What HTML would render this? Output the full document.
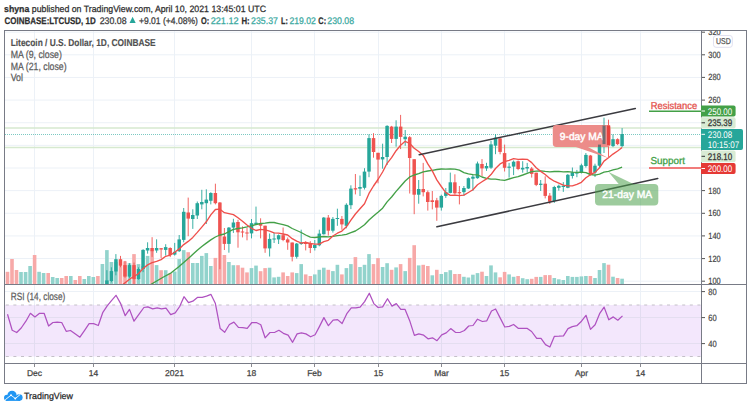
<!DOCTYPE html><html><head><meta charset="utf-8"><style>html,body{margin:0;padding:0;background:#fff;width:750px;height:409px;overflow:hidden}svg{display:block}text{font-family:"Liberation Sans",sans-serif;text-rendering:geometricPrecision}</style></head><body>
<svg width="750" height="409" viewBox="0 0 750 409">
<defs><clipPath id="cp"><rect x="5" y="31" width="696" height="253"/></clipPath><clipPath id="ca"><rect x="702" y="30.5" width="48" height="253.5"/></clipPath><clipPath id="cr"><rect x="5" y="285" width="696" height="78"/></clipPath></defs>
<text stroke="#2e2e2e" stroke-width="0.25" x="4" y="11.6" font-size="9.2" fill="#2e2e2e" textLength="262" lengthAdjust="spacingAndGlyphs"><tspan font-weight="bold">shyna</tspan> published on TradingView.com, April 10, 2021 13:45:01 UTC</text>
<text stroke="#2e2e2e" stroke-width="0.25" x="4.5" y="23.6" font-size="9.6" font-weight="bold" fill="#2e2e2e" textLength="91.2" lengthAdjust="spacingAndGlyphs">COINBASE:LTCUSD, 1D</text>
<text stroke="#3a3a3a" stroke-width="0.25" x="99.7" y="23.6" font-size="9.6" font-weight="normal" fill="#3a3a3a" textLength="26.9" lengthAdjust="spacingAndGlyphs">230.08</text>
<text stroke="#3a3a3a" stroke-width="0.25" x="138.9" y="23.6" font-size="9.6" font-weight="normal" fill="#3a3a3a" textLength="59" lengthAdjust="spacingAndGlyphs">+9.01 (+4.08%)</text>
<text stroke="#2e2e2e" stroke-width="0.25" x="201" y="23.6" font-size="9.6" font-weight="bold" fill="#2e2e2e" textLength="8.2" lengthAdjust="spacingAndGlyphs">O:</text>
<text stroke="#3aa99f" stroke-width="0.25" x="210.7" y="23.6" font-size="9.6" font-weight="normal" fill="#3aa99f" textLength="28" lengthAdjust="spacingAndGlyphs">221.12</text>
<text stroke="#2e2e2e" stroke-width="0.25" x="241.4" y="23.6" font-size="9.6" font-weight="bold" fill="#2e2e2e" textLength="8.2" lengthAdjust="spacingAndGlyphs">H:</text>
<text stroke="#3aa99f" stroke-width="0.25" x="251.1" y="23.6" font-size="9.6" font-weight="normal" fill="#3aa99f" textLength="26.8" lengthAdjust="spacingAndGlyphs">235.37</text>
<text stroke="#2e2e2e" stroke-width="0.25" x="281" y="23.6" font-size="9.6" font-weight="bold" fill="#2e2e2e" textLength="6.8" lengthAdjust="spacingAndGlyphs">L:</text>
<text stroke="#3aa99f" stroke-width="0.25" x="289.4" y="23.6" font-size="9.6" font-weight="normal" fill="#3aa99f" textLength="26.4" lengthAdjust="spacingAndGlyphs">219.02</text>
<text stroke="#2e2e2e" stroke-width="0.25" x="318.3" y="23.6" font-size="9.6" font-weight="bold" fill="#2e2e2e" textLength="7.8" lengthAdjust="spacingAndGlyphs">C:</text>
<text stroke="#3aa99f" stroke-width="0.25" x="327.3" y="23.6" font-size="9.6" font-weight="normal" fill="#3aa99f" textLength="26.8" lengthAdjust="spacingAndGlyphs">230.08</text>
<path d="M129.5 23 L132.6 16.8 L135.7 23 Z" fill="#26a69a"/>
<g stroke="#ecf1f7" stroke-width="1">
<line x1="34.5" y1="31" x2="34.5" y2="284"/>
<line x1="34.5" y1="285" x2="34.5" y2="363"/>
<line x1="93.5" y1="31" x2="93.5" y2="284"/>
<line x1="93.5" y1="285" x2="93.5" y2="363"/>
<line x1="174.5" y1="31" x2="174.5" y2="284"/>
<line x1="174.5" y1="285" x2="174.5" y2="363"/>
<line x1="251.5" y1="31" x2="251.5" y2="284"/>
<line x1="251.5" y1="285" x2="251.5" y2="363"/>
<line x1="314.5" y1="31" x2="314.5" y2="284"/>
<line x1="314.5" y1="285" x2="314.5" y2="363"/>
<line x1="378.5" y1="31" x2="378.5" y2="284"/>
<line x1="378.5" y1="285" x2="378.5" y2="363"/>
<line x1="441.5" y1="31" x2="441.5" y2="284"/>
<line x1="441.5" y1="285" x2="441.5" y2="363"/>
<line x1="504.5" y1="31" x2="504.5" y2="284"/>
<line x1="504.5" y1="285" x2="504.5" y2="363"/>
<line x1="581.5" y1="31" x2="581.5" y2="284"/>
<line x1="581.5" y1="285" x2="581.5" y2="363"/>
<line x1="640.5" y1="31" x2="640.5" y2="284"/>
<line x1="640.5" y1="285" x2="640.5" y2="363"/>
<line x1="5" y1="281.20" x2="701" y2="281.20"/>
<line x1="5" y1="258.56" x2="701" y2="258.56"/>
<line x1="5" y1="235.92" x2="701" y2="235.92"/>
<line x1="5" y1="213.28" x2="701" y2="213.28"/>
<line x1="5" y1="190.64" x2="701" y2="190.64"/>
<line x1="5" y1="168.00" x2="701" y2="168.00"/>
<line x1="5" y1="145.36" x2="701" y2="145.36"/>
<line x1="5" y1="122.72" x2="701" y2="122.72"/>
<line x1="5" y1="100.08" x2="701" y2="100.08"/>
<line x1="5" y1="77.44" x2="701" y2="77.44"/>
<line x1="5" y1="54.80" x2="701" y2="54.80"/>
<line x1="5" y1="32.16" x2="701" y2="32.16"/>
<line x1="5" y1="291.5" x2="701" y2="291.5"/>
<line x1="5" y1="317.5" x2="701" y2="317.5"/>
<line x1="5" y1="343.5" x2="701" y2="343.5"/>
</g>
<rect x="5" y="305" width="696" height="51.5" fill="#f3e7fc"/>
<line x1="5.8" y1="305" x2="701" y2="305" stroke="#c4c0c8" stroke-width="1" stroke-dasharray="3 4.6"/>
<line x1="5.8" y1="356.5" x2="701" y2="356.5" stroke="#c4c0c8" stroke-width="1" stroke-dasharray="3 4.6"/>
<line x1="5" y1="317.5" x2="701" y2="317.5" stroke="#e4def0" stroke-width="1"/>
<line x1="5" y1="343.5" x2="701" y2="343.5" stroke="#e4def0" stroke-width="1"/>
<line x1="34.5" y1="304.6" x2="34.5" y2="356.6" stroke="#e2dcf0" stroke-width="1"/>
<line x1="93.5" y1="304.6" x2="93.5" y2="356.6" stroke="#e2dcf0" stroke-width="1"/>
<line x1="174.5" y1="304.6" x2="174.5" y2="356.6" stroke="#e2dcf0" stroke-width="1"/>
<line x1="251.5" y1="304.6" x2="251.5" y2="356.6" stroke="#e2dcf0" stroke-width="1"/>
<line x1="314.5" y1="304.6" x2="314.5" y2="356.6" stroke="#e2dcf0" stroke-width="1"/>
<line x1="378.5" y1="304.6" x2="378.5" y2="356.6" stroke="#e2dcf0" stroke-width="1"/>
<line x1="441.5" y1="304.6" x2="441.5" y2="356.6" stroke="#e2dcf0" stroke-width="1"/>
<line x1="504.5" y1="304.6" x2="504.5" y2="356.6" stroke="#e2dcf0" stroke-width="1"/>
<line x1="581.5" y1="304.6" x2="581.5" y2="356.6" stroke="#e2dcf0" stroke-width="1"/>
<line x1="640.5" y1="304.6" x2="640.5" y2="356.6" stroke="#e2dcf0" stroke-width="1"/>
<g clip-path="url(#cp)">
<line x1="5" y1="128" x2="701" y2="128" stroke="#d6e9cf" stroke-width="1.5"/>
<line x1="5" y1="147.6" x2="701" y2="147.6" stroke="#d6e9cf" stroke-width="1.5"/>
<line x1="5" y1="134.5" x2="701" y2="134.5" stroke="#26a69a" stroke-width="1" stroke-dasharray="1 1" opacity="0.6"/>
<rect x="5.7" y="271.8" width="3.6" height="12.2" fill="#f7a9a8"/>
<rect x="10.2" y="259.0" width="3.6" height="25.0" fill="#f7a9a8"/>
<rect x="14.7" y="270.0" width="3.6" height="14.0" fill="#f7a9a8"/>
<rect x="19.2" y="272.0" width="3.6" height="12.0" fill="#92d3cc"/>
<rect x="23.8" y="272.0" width="3.6" height="12.0" fill="#92d3cc"/>
<rect x="28.3" y="266.0" width="3.6" height="18.0" fill="#92d3cc"/>
<rect x="32.8" y="255.0" width="3.6" height="29.0" fill="#f7a9a8"/>
<rect x="37.3" y="271.8" width="3.6" height="12.2" fill="#92d3cc"/>
<rect x="41.8" y="273.0" width="3.6" height="11.0" fill="#92d3cc"/>
<rect x="46.4" y="273.0" width="3.6" height="11.0" fill="#f7a9a8"/>
<rect x="50.9" y="277.0" width="3.6" height="7.0" fill="#92d3cc"/>
<rect x="55.4" y="278.0" width="3.6" height="6.0" fill="#92d3cc"/>
<rect x="59.9" y="278.0" width="3.6" height="6.0" fill="#f7a9a8"/>
<rect x="64.4" y="276.0" width="3.6" height="8.0" fill="#f7a9a8"/>
<rect x="69.0" y="276.0" width="3.6" height="8.0" fill="#92d3cc"/>
<rect x="73.5" y="280.0" width="3.6" height="4.0" fill="#f7a9a8"/>
<rect x="78.0" y="276.0" width="3.6" height="8.0" fill="#f7a9a8"/>
<rect x="82.5" y="279.0" width="3.6" height="5.0" fill="#92d3cc"/>
<rect x="87.0" y="276.0" width="3.6" height="8.0" fill="#92d3cc"/>
<rect x="91.5" y="277.0" width="3.6" height="7.0" fill="#92d3cc"/>
<rect x="96.1" y="276.0" width="3.6" height="8.0" fill="#f7a9a8"/>
<rect x="100.6" y="264.0" width="3.6" height="20.0" fill="#92d3cc"/>
<rect x="105.1" y="250.1" width="3.6" height="33.9" fill="#92d3cc"/>
<rect x="109.6" y="262.0" width="3.6" height="22.0" fill="#92d3cc"/>
<rect x="114.1" y="262.0" width="3.6" height="22.0" fill="#92d3cc"/>
<rect x="118.7" y="266.0" width="3.6" height="18.0" fill="#f7a9a8"/>
<rect x="123.2" y="261.3" width="3.6" height="22.7" fill="#f7a9a8"/>
<rect x="127.7" y="263.2" width="3.6" height="20.8" fill="#92d3cc"/>
<rect x="132.2" y="254.1" width="3.6" height="29.9" fill="#f7a9a8"/>
<rect x="136.7" y="264.1" width="3.6" height="19.9" fill="#92d3cc"/>
<rect x="141.3" y="266.0" width="3.6" height="18.0" fill="#92d3cc"/>
<rect x="145.8" y="255.9" width="3.6" height="28.1" fill="#92d3cc"/>
<rect x="150.3" y="250.5" width="3.6" height="33.5" fill="#f7a9a8"/>
<rect x="154.8" y="265.1" width="3.6" height="18.9" fill="#92d3cc"/>
<rect x="159.3" y="270.2" width="3.6" height="13.8" fill="#f7a9a8"/>
<rect x="163.9" y="270.2" width="3.6" height="13.8" fill="#92d3cc"/>
<rect x="168.4" y="273.4" width="3.6" height="10.6" fill="#f7a9a8"/>
<rect x="172.9" y="271.5" width="3.6" height="12.5" fill="#92d3cc"/>
<rect x="177.4" y="259.1" width="3.6" height="24.9" fill="#92d3cc"/>
<rect x="181.9" y="250.1" width="3.6" height="33.9" fill="#92d3cc"/>
<rect x="186.4" y="252.2" width="3.6" height="31.8" fill="#f7a9a8"/>
<rect x="191.0" y="263.0" width="3.6" height="21.0" fill="#92d3cc"/>
<rect x="195.5" y="263.0" width="3.6" height="21.0" fill="#92d3cc"/>
<rect x="200.0" y="255.9" width="3.6" height="28.1" fill="#92d3cc"/>
<rect x="204.5" y="253.1" width="3.6" height="30.9" fill="#92d3cc"/>
<rect x="209.0" y="266.0" width="3.6" height="18.0" fill="#92d3cc"/>
<rect x="213.6" y="257.9" width="3.6" height="26.1" fill="#f7a9a8"/>
<rect x="218.1" y="236.0" width="3.6" height="48.0" fill="#f7a9a8"/>
<rect x="222.6" y="255.0" width="3.6" height="29.0" fill="#f7a9a8"/>
<rect x="227.1" y="262.0" width="3.6" height="22.0" fill="#92d3cc"/>
<rect x="231.6" y="265.2" width="3.6" height="18.8" fill="#92d3cc"/>
<rect x="236.2" y="265.2" width="3.6" height="18.8" fill="#f7a9a8"/>
<rect x="240.7" y="267.7" width="3.6" height="16.3" fill="#f7a9a8"/>
<rect x="245.2" y="272.4" width="3.6" height="11.6" fill="#f7a9a8"/>
<rect x="249.7" y="268.1" width="3.6" height="15.9" fill="#92d3cc"/>
<rect x="254.2" y="265.6" width="3.6" height="18.4" fill="#92d3cc"/>
<rect x="258.8" y="271.2" width="3.6" height="12.8" fill="#f7a9a8"/>
<rect x="263.3" y="268.1" width="3.6" height="15.9" fill="#f7a9a8"/>
<rect x="267.8" y="267.7" width="3.6" height="16.3" fill="#92d3cc"/>
<rect x="272.3" y="277.4" width="3.6" height="6.6" fill="#92d3cc"/>
<rect x="276.8" y="276.8" width="3.6" height="7.2" fill="#92d3cc"/>
<rect x="281.3" y="272.4" width="3.6" height="11.6" fill="#f7a9a8"/>
<rect x="285.9" y="276.0" width="3.6" height="8.0" fill="#f7a9a8"/>
<rect x="290.4" y="272.4" width="3.6" height="11.6" fill="#f7a9a8"/>
<rect x="294.9" y="273.1" width="3.6" height="10.9" fill="#92d3cc"/>
<rect x="299.4" y="264.1" width="3.6" height="19.9" fill="#92d3cc"/>
<rect x="303.9" y="274.4" width="3.6" height="9.6" fill="#f7a9a8"/>
<rect x="308.5" y="276.0" width="3.6" height="8.0" fill="#f7a9a8"/>
<rect x="313.0" y="274.4" width="3.6" height="9.6" fill="#92d3cc"/>
<rect x="317.5" y="269.8" width="3.6" height="14.2" fill="#92d3cc"/>
<rect x="322.0" y="267.7" width="3.6" height="16.3" fill="#92d3cc"/>
<rect x="326.5" y="269.8" width="3.6" height="14.2" fill="#f7a9a8"/>
<rect x="331.1" y="271.1" width="3.6" height="12.9" fill="#92d3cc"/>
<rect x="335.6" y="264.8" width="3.6" height="19.2" fill="#92d3cc"/>
<rect x="340.1" y="274.4" width="3.6" height="9.6" fill="#f7a9a8"/>
<rect x="344.6" y="268.1" width="3.6" height="15.9" fill="#92d3cc"/>
<rect x="349.1" y="264.1" width="3.6" height="19.9" fill="#92d3cc"/>
<rect x="353.6" y="257.1" width="3.6" height="26.9" fill="#f7a9a8"/>
<rect x="358.2" y="267.0" width="3.6" height="17.0" fill="#92d3cc"/>
<rect x="362.7" y="264.8" width="3.6" height="19.2" fill="#92d3cc"/>
<rect x="367.2" y="254.1" width="3.6" height="29.9" fill="#92d3cc"/>
<rect x="371.7" y="264.1" width="3.6" height="19.9" fill="#f7a9a8"/>
<rect x="376.2" y="258.1" width="3.6" height="25.9" fill="#f7a9a8"/>
<rect x="380.8" y="267.0" width="3.6" height="17.0" fill="#92d3cc"/>
<rect x="385.3" y="263.2" width="3.6" height="20.8" fill="#92d3cc"/>
<rect x="389.8" y="269.8" width="3.6" height="14.2" fill="#f7a9a8"/>
<rect x="394.3" y="267.4" width="3.6" height="16.6" fill="#92d3cc"/>
<rect x="398.8" y="264.1" width="3.6" height="19.9" fill="#f7a9a8"/>
<rect x="403.4" y="271.1" width="3.6" height="12.9" fill="#92d3cc"/>
<rect x="407.9" y="257.9" width="3.6" height="26.1" fill="#f7a9a8"/>
<rect x="412.4" y="245.2" width="3.6" height="38.8" fill="#f7a9a8"/>
<rect x="416.9" y="265.4" width="3.6" height="18.6" fill="#92d3cc"/>
<rect x="421.4" y="264.8" width="3.6" height="19.2" fill="#f7a9a8"/>
<rect x="426.0" y="266.0" width="3.6" height="18.0" fill="#f7a9a8"/>
<rect x="430.5" y="275.3" width="3.6" height="8.7" fill="#92d3cc"/>
<rect x="435.0" y="269.8" width="3.6" height="14.2" fill="#f7a9a8"/>
<rect x="439.5" y="274.0" width="3.6" height="10.0" fill="#92d3cc"/>
<rect x="444.0" y="272.1" width="3.6" height="11.9" fill="#92d3cc"/>
<rect x="448.5" y="270.2" width="3.6" height="13.8" fill="#92d3cc"/>
<rect x="453.1" y="274.0" width="3.6" height="10.0" fill="#f7a9a8"/>
<rect x="457.6" y="274.0" width="3.6" height="10.0" fill="#f7a9a8"/>
<rect x="462.1" y="276.8" width="3.6" height="7.2" fill="#92d3cc"/>
<rect x="466.6" y="277.5" width="3.6" height="6.5" fill="#92d3cc"/>
<rect x="471.1" y="274.7" width="3.6" height="9.3" fill="#92d3cc"/>
<rect x="475.7" y="273.1" width="3.6" height="10.9" fill="#92d3cc"/>
<rect x="480.2" y="271.7" width="3.6" height="12.3" fill="#f7a9a8"/>
<rect x="484.7" y="276.0" width="3.6" height="8.0" fill="#92d3cc"/>
<rect x="489.2" y="265.4" width="3.6" height="18.6" fill="#92d3cc"/>
<rect x="493.7" y="272.4" width="3.6" height="11.6" fill="#92d3cc"/>
<rect x="498.3" y="277.3" width="3.6" height="6.7" fill="#f7a9a8"/>
<rect x="502.8" y="271.9" width="3.6" height="12.1" fill="#f7a9a8"/>
<rect x="507.3" y="274.4" width="3.6" height="9.6" fill="#92d3cc"/>
<rect x="511.8" y="276.8" width="3.6" height="7.2" fill="#92d3cc"/>
<rect x="516.3" y="276.0" width="3.6" height="8.0" fill="#f7a9a8"/>
<rect x="520.9" y="278.2" width="3.6" height="5.8" fill="#92d3cc"/>
<rect x="525.4" y="279.2" width="3.6" height="4.8" fill="#92d3cc"/>
<rect x="529.9" y="278.8" width="3.6" height="5.2" fill="#f7a9a8"/>
<rect x="534.4" y="276.9" width="3.6" height="7.1" fill="#f7a9a8"/>
<rect x="538.9" y="276.9" width="3.6" height="7.1" fill="#92d3cc"/>
<rect x="543.4" y="275.1" width="3.6" height="8.9" fill="#f7a9a8"/>
<rect x="548.0" y="275.1" width="3.6" height="8.9" fill="#f7a9a8"/>
<rect x="552.5" y="278.0" width="3.6" height="6.0" fill="#92d3cc"/>
<rect x="557.0" y="279.3" width="3.6" height="4.7" fill="#92d3cc"/>
<rect x="561.5" y="280.0" width="3.6" height="4.0" fill="#92d3cc"/>
<rect x="566.0" y="276.0" width="3.6" height="8.0" fill="#92d3cc"/>
<rect x="570.6" y="276.9" width="3.6" height="7.1" fill="#92d3cc"/>
<rect x="575.1" y="276.9" width="3.6" height="7.1" fill="#92d3cc"/>
<rect x="579.6" y="276.4" width="3.6" height="7.6" fill="#92d3cc"/>
<rect x="584.1" y="276.0" width="3.6" height="8.0" fill="#92d3cc"/>
<rect x="588.6" y="276.0" width="3.6" height="8.0" fill="#f7a9a8"/>
<rect x="593.2" y="278.0" width="3.6" height="6.0" fill="#92d3cc"/>
<rect x="597.7" y="270.0" width="3.6" height="14.0" fill="#92d3cc"/>
<rect x="602.2" y="263.1" width="3.6" height="20.9" fill="#92d3cc"/>
<rect x="606.7" y="264.7" width="3.6" height="19.3" fill="#f7a9a8"/>
<rect x="611.2" y="276.7" width="3.6" height="7.3" fill="#92d3cc"/>
<rect x="615.8" y="278.0" width="3.6" height="6.0" fill="#f7a9a8"/>
<rect x="620.3" y="278.7" width="3.6" height="5.3" fill="#92d3cc"/>
<line x1="106.9" y1="270.2" x2="106.9" y2="292.0" stroke="#26a69a" stroke-width="1" stroke-opacity="0.9"/>
<rect x="105.15" y="280.4" width="3.5" height="9.6" fill="#26a69a"/>
<line x1="111.4" y1="267.3" x2="111.4" y2="282.3" stroke="#26a69a" stroke-width="1" stroke-opacity="0.9"/>
<rect x="109.67" y="271.1" width="3.5" height="9.9" fill="#26a69a"/>
<line x1="115.9" y1="254.1" x2="115.9" y2="275.3" stroke="#26a69a" stroke-width="1" stroke-opacity="0.9"/>
<rect x="114.19" y="259.2" width="3.5" height="12.3" fill="#26a69a"/>
<line x1="120.5" y1="255.9" x2="120.5" y2="267.3" stroke="#ef5350" stroke-width="1" stroke-opacity="0.9"/>
<rect x="118.71" y="259.2" width="3.5" height="6.6" fill="#ef5350"/>
<line x1="125.0" y1="260.9" x2="125.0" y2="277.8" stroke="#ef5350" stroke-width="1" stroke-opacity="0.9"/>
<rect x="123.23" y="265.1" width="3.5" height="11.5" fill="#ef5350"/>
<line x1="129.5" y1="263.2" x2="129.5" y2="277.8" stroke="#26a69a" stroke-width="1" stroke-opacity="0.9"/>
<rect x="127.75" y="265.1" width="3.5" height="11.5" fill="#26a69a"/>
<line x1="134.0" y1="262.6" x2="134.0" y2="284.0" stroke="#ef5350" stroke-width="1" stroke-opacity="0.9"/>
<rect x="132.27" y="265.1" width="3.5" height="14.0" fill="#ef5350"/>
<line x1="138.5" y1="267.3" x2="138.5" y2="279.7" stroke="#26a69a" stroke-width="1" stroke-opacity="0.9"/>
<rect x="136.79" y="269.0" width="3.5" height="10.1" fill="#26a69a"/>
<line x1="143.1" y1="249.2" x2="143.1" y2="272.1" stroke="#26a69a" stroke-width="1" stroke-opacity="0.9"/>
<rect x="141.31" y="249.9" width="3.5" height="19.1" fill="#26a69a"/>
<line x1="147.6" y1="242.3" x2="147.6" y2="253.7" stroke="#26a69a" stroke-width="1" stroke-opacity="0.9"/>
<rect x="145.83" y="248.0" width="3.5" height="2.5" fill="#26a69a"/>
<line x1="152.1" y1="237.2" x2="152.1" y2="256.9" stroke="#ef5350" stroke-width="1" stroke-opacity="0.9"/>
<rect x="150.34" y="248.0" width="3.5" height="3.2" fill="#ef5350"/>
<line x1="156.6" y1="239.3" x2="156.6" y2="252.8" stroke="#26a69a" stroke-width="1" stroke-opacity="0.9"/>
<rect x="154.86" y="248.0" width="3.5" height="2.5" fill="#26a69a"/>
<line x1="161.1" y1="248.2" x2="161.1" y2="258.1" stroke="#ef5350" stroke-width="1" stroke-opacity="0.9"/>
<rect x="159.38" y="248.2" width="3.5" height="1.3" fill="#ef5350"/>
<line x1="165.7" y1="244.2" x2="165.7" y2="255.6" stroke="#26a69a" stroke-width="1" stroke-opacity="0.9"/>
<rect x="163.90" y="247.1" width="3.5" height="2.8" fill="#26a69a"/>
<line x1="170.2" y1="247.3" x2="170.2" y2="257.1" stroke="#ef5350" stroke-width="1" stroke-opacity="0.9"/>
<rect x="168.42" y="248.0" width="3.5" height="7.0" fill="#ef5350"/>
<line x1="174.7" y1="242.9" x2="174.7" y2="255.6" stroke="#26a69a" stroke-width="1" stroke-opacity="0.9"/>
<rect x="172.94" y="251.8" width="3.5" height="2.8" fill="#26a69a"/>
<line x1="179.2" y1="235.0" x2="179.2" y2="252.0" stroke="#26a69a" stroke-width="1" stroke-opacity="0.9"/>
<rect x="177.46" y="239.4" width="3.5" height="11.8" fill="#26a69a"/>
<line x1="183.7" y1="208.0" x2="183.7" y2="242.3" stroke="#26a69a" stroke-width="1" stroke-opacity="0.9"/>
<rect x="181.98" y="211.8" width="3.5" height="28.1" fill="#26a69a"/>
<line x1="188.2" y1="197.6" x2="188.2" y2="236.2" stroke="#ef5350" stroke-width="1" stroke-opacity="0.9"/>
<rect x="186.50" y="212.5" width="3.5" height="6.1" fill="#ef5350"/>
<line x1="192.8" y1="209.3" x2="192.8" y2="228.9" stroke="#26a69a" stroke-width="1" stroke-opacity="0.9"/>
<rect x="191.01" y="215.0" width="3.5" height="4.0" fill="#26a69a"/>
<line x1="197.3" y1="201.5" x2="197.3" y2="219.0" stroke="#26a69a" stroke-width="1" stroke-opacity="0.9"/>
<rect x="195.53" y="203.2" width="3.5" height="12.3" fill="#26a69a"/>
<line x1="201.8" y1="189.8" x2="201.8" y2="209.3" stroke="#26a69a" stroke-width="1" stroke-opacity="0.9"/>
<rect x="200.05" y="202.0" width="3.5" height="2.4" fill="#26a69a"/>
<line x1="206.3" y1="189.3" x2="206.3" y2="224.0" stroke="#26a69a" stroke-width="1" stroke-opacity="0.9"/>
<rect x="204.57" y="199.6" width="3.5" height="3.6" fill="#26a69a"/>
<line x1="210.8" y1="192.2" x2="210.8" y2="204.4" stroke="#26a69a" stroke-width="1" stroke-opacity="0.9"/>
<rect x="209.09" y="193.0" width="3.5" height="7.8" fill="#26a69a"/>
<line x1="215.4" y1="183.7" x2="215.4" y2="204.4" stroke="#ef5350" stroke-width="1" stroke-opacity="0.9"/>
<rect x="213.61" y="193.0" width="3.5" height="10.2" fill="#ef5350"/>
<line x1="219.9" y1="202.0" x2="219.9" y2="269.2" stroke="#ef5350" stroke-width="1" stroke-opacity="0.9"/>
<rect x="218.13" y="202.5" width="3.5" height="33.7" fill="#ef5350"/>
<line x1="224.4" y1="228.0" x2="224.4" y2="250.0" stroke="#ef5350" stroke-width="1" stroke-opacity="0.9"/>
<rect x="222.65" y="236.5" width="3.5" height="7.4" fill="#ef5350"/>
<line x1="228.9" y1="227.0" x2="228.9" y2="252.7" stroke="#26a69a" stroke-width="1" stroke-opacity="0.9"/>
<rect x="227.17" y="227.6" width="3.5" height="16.3" fill="#26a69a"/>
<line x1="233.4" y1="218.8" x2="233.4" y2="232.9" stroke="#26a69a" stroke-width="1" stroke-opacity="0.9"/>
<rect x="231.69" y="222.5" width="3.5" height="5.1" fill="#26a69a"/>
<line x1="238.0" y1="219.8" x2="238.0" y2="247.7" stroke="#ef5350" stroke-width="1" stroke-opacity="0.9"/>
<rect x="236.21" y="222.0" width="3.5" height="10.3" fill="#ef5350"/>
<line x1="242.5" y1="226.4" x2="242.5" y2="237.4" stroke="#ef5350" stroke-width="1" stroke-opacity="0.9"/>
<rect x="240.72" y="231.5" width="3.5" height="1.0" fill="#ef5350"/>
<line x1="247.0" y1="227.9" x2="247.0" y2="240.3" stroke="#ef5350" stroke-width="1" stroke-opacity="0.9"/>
<rect x="245.24" y="232.5" width="3.5" height="1.0" fill="#ef5350"/>
<line x1="251.5" y1="219.0" x2="251.5" y2="238.4" stroke="#26a69a" stroke-width="1" stroke-opacity="0.9"/>
<rect x="249.76" y="223.2" width="3.5" height="10.2" fill="#26a69a"/>
<line x1="256.0" y1="206.6" x2="256.0" y2="225.0" stroke="#26a69a" stroke-width="1" stroke-opacity="0.9"/>
<rect x="254.28" y="222.7" width="3.5" height="1.5" fill="#26a69a"/>
<line x1="260.6" y1="218.3" x2="260.6" y2="238.4" stroke="#ef5350" stroke-width="1" stroke-opacity="0.9"/>
<rect x="258.80" y="223.2" width="3.5" height="2.5" fill="#ef5350"/>
<line x1="265.1" y1="225.7" x2="265.1" y2="252.8" stroke="#ef5350" stroke-width="1" stroke-opacity="0.9"/>
<rect x="263.32" y="225.7" width="3.5" height="22.7" fill="#ef5350"/>
<line x1="269.6" y1="233.5" x2="269.6" y2="256.5" stroke="#26a69a" stroke-width="1" stroke-opacity="0.9"/>
<rect x="267.84" y="238.9" width="3.5" height="9.5" fill="#26a69a"/>
<line x1="274.1" y1="232.6" x2="274.1" y2="243.0" stroke="#26a69a" stroke-width="1" stroke-opacity="0.9"/>
<rect x="272.36" y="238.5" width="3.5" height="1.0" fill="#26a69a"/>
<line x1="278.6" y1="234.4" x2="278.6" y2="244.0" stroke="#26a69a" stroke-width="1" stroke-opacity="0.9"/>
<rect x="276.88" y="235.2" width="3.5" height="4.2" fill="#26a69a"/>
<line x1="283.1" y1="227.5" x2="283.1" y2="241.2" stroke="#ef5350" stroke-width="1" stroke-opacity="0.9"/>
<rect x="281.40" y="235.2" width="3.5" height="4.8" fill="#ef5350"/>
<line x1="287.7" y1="237.5" x2="287.7" y2="249.8" stroke="#ef5350" stroke-width="1" stroke-opacity="0.9"/>
<rect x="285.91" y="239.4" width="3.5" height="3.1" fill="#ef5350"/>
<line x1="292.2" y1="242.5" x2="292.2" y2="261.4" stroke="#ef5350" stroke-width="1" stroke-opacity="0.9"/>
<rect x="290.43" y="242.5" width="3.5" height="14.3" fill="#ef5350"/>
<line x1="296.7" y1="243.0" x2="296.7" y2="258.6" stroke="#26a69a" stroke-width="1" stroke-opacity="0.9"/>
<rect x="294.95" y="243.6" width="3.5" height="13.2" fill="#26a69a"/>
<line x1="301.2" y1="229.7" x2="301.2" y2="244.9" stroke="#26a69a" stroke-width="1" stroke-opacity="0.9"/>
<rect x="299.47" y="243.0" width="3.5" height="1.0" fill="#26a69a"/>
<line x1="305.7" y1="241.2" x2="305.7" y2="250.4" stroke="#ef5350" stroke-width="1" stroke-opacity="0.9"/>
<rect x="303.99" y="242.1" width="3.5" height="1.9" fill="#ef5350"/>
<line x1="310.3" y1="241.2" x2="310.3" y2="253.1" stroke="#ef5350" stroke-width="1" stroke-opacity="0.9"/>
<rect x="308.51" y="243.0" width="3.5" height="5.0" fill="#ef5350"/>
<line x1="314.8" y1="240.0" x2="314.8" y2="250.5" stroke="#26a69a" stroke-width="1" stroke-opacity="0.9"/>
<rect x="313.03" y="245.0" width="3.5" height="3.0" fill="#26a69a"/>
<line x1="319.3" y1="229.7" x2="319.3" y2="246.3" stroke="#26a69a" stroke-width="1" stroke-opacity="0.9"/>
<rect x="317.55" y="233.6" width="3.5" height="11.7" fill="#26a69a"/>
<line x1="323.8" y1="217.0" x2="323.8" y2="234.6" stroke="#26a69a" stroke-width="1" stroke-opacity="0.9"/>
<rect x="322.07" y="217.6" width="3.5" height="16.6" fill="#26a69a"/>
<line x1="328.3" y1="215.0" x2="328.3" y2="235.6" stroke="#ef5350" stroke-width="1" stroke-opacity="0.9"/>
<rect x="326.59" y="217.6" width="3.5" height="13.1" fill="#ef5350"/>
<line x1="332.9" y1="217.0" x2="332.9" y2="232.6" stroke="#26a69a" stroke-width="1" stroke-opacity="0.9"/>
<rect x="331.10" y="218.9" width="3.5" height="11.8" fill="#26a69a"/>
<line x1="337.4" y1="208.7" x2="337.4" y2="225.8" stroke="#26a69a" stroke-width="1" stroke-opacity="0.9"/>
<rect x="335.62" y="218.0" width="3.5" height="1.0" fill="#26a69a"/>
<line x1="341.9" y1="216.0" x2="341.9" y2="229.7" stroke="#ef5350" stroke-width="1" stroke-opacity="0.9"/>
<rect x="340.14" y="218.9" width="3.5" height="5.5" fill="#ef5350"/>
<line x1="346.4" y1="203.3" x2="346.4" y2="228.3" stroke="#26a69a" stroke-width="1" stroke-opacity="0.9"/>
<rect x="344.66" y="204.8" width="3.5" height="21.0" fill="#26a69a"/>
<line x1="350.9" y1="185.3" x2="350.9" y2="209.1" stroke="#26a69a" stroke-width="1" stroke-opacity="0.9"/>
<rect x="349.18" y="188.6" width="3.5" height="16.6" fill="#26a69a"/>
<line x1="355.4" y1="174.0" x2="355.4" y2="194.4" stroke="#ef5350" stroke-width="1" stroke-opacity="0.9"/>
<rect x="353.70" y="188.2" width="3.5" height="1.3" fill="#ef5350"/>
<line x1="360.0" y1="175.5" x2="360.0" y2="196.0" stroke="#26a69a" stroke-width="1" stroke-opacity="0.9"/>
<rect x="358.22" y="187.0" width="3.5" height="1.7" fill="#26a69a"/>
<line x1="364.5" y1="168.2" x2="364.5" y2="189.5" stroke="#26a69a" stroke-width="1" stroke-opacity="0.9"/>
<rect x="362.74" y="171.6" width="3.5" height="16.2" fill="#26a69a"/>
<line x1="369.0" y1="134.4" x2="369.0" y2="177.2" stroke="#26a69a" stroke-width="1" stroke-opacity="0.9"/>
<rect x="367.26" y="138.1" width="3.5" height="33.5" fill="#26a69a"/>
<line x1="373.5" y1="133.2" x2="373.5" y2="157.7" stroke="#ef5350" stroke-width="1" stroke-opacity="0.9"/>
<rect x="371.78" y="138.1" width="3.5" height="13.9" fill="#ef5350"/>
<line x1="378.0" y1="152.8" x2="378.0" y2="183.3" stroke="#ef5350" stroke-width="1" stroke-opacity="0.9"/>
<rect x="376.29" y="152.8" width="3.5" height="6.8" fill="#ef5350"/>
<line x1="382.6" y1="143.7" x2="382.6" y2="168.7" stroke="#26a69a" stroke-width="1" stroke-opacity="0.9"/>
<rect x="380.81" y="157.0" width="3.5" height="2.4" fill="#26a69a"/>
<line x1="387.1" y1="125.2" x2="387.1" y2="165.0" stroke="#26a69a" stroke-width="1" stroke-opacity="0.9"/>
<rect x="385.33" y="125.9" width="3.5" height="31.1" fill="#26a69a"/>
<line x1="391.6" y1="125.9" x2="391.6" y2="143.0" stroke="#ef5350" stroke-width="1" stroke-opacity="0.9"/>
<rect x="389.85" y="126.6" width="3.5" height="12.3" fill="#ef5350"/>
<line x1="396.1" y1="120.3" x2="396.1" y2="146.7" stroke="#26a69a" stroke-width="1" stroke-opacity="0.9"/>
<rect x="394.37" y="126.6" width="3.5" height="12.3" fill="#26a69a"/>
<line x1="400.6" y1="114.9" x2="400.6" y2="149.1" stroke="#ef5350" stroke-width="1" stroke-opacity="0.9"/>
<rect x="398.89" y="126.6" width="3.5" height="10.3" fill="#ef5350"/>
<line x1="405.2" y1="130.0" x2="405.2" y2="145.8" stroke="#26a69a" stroke-width="1" stroke-opacity="0.9"/>
<rect x="403.41" y="136.7" width="3.5" height="2.5" fill="#26a69a"/>
<line x1="409.7" y1="136.0" x2="409.7" y2="193.5" stroke="#ef5350" stroke-width="1" stroke-opacity="0.9"/>
<rect x="407.93" y="137.2" width="3.5" height="20.8" fill="#ef5350"/>
<line x1="414.2" y1="159.2" x2="414.2" y2="214.2" stroke="#ef5350" stroke-width="1" stroke-opacity="0.9"/>
<rect x="412.45" y="159.2" width="3.5" height="35.5" fill="#ef5350"/>
<line x1="418.7" y1="180.0" x2="418.7" y2="203.7" stroke="#26a69a" stroke-width="1" stroke-opacity="0.9"/>
<rect x="416.97" y="189.0" width="3.5" height="5.7" fill="#26a69a"/>
<line x1="423.2" y1="162.9" x2="423.2" y2="196.4" stroke="#ef5350" stroke-width="1" stroke-opacity="0.9"/>
<rect x="421.48" y="189.0" width="3.5" height="3.2" fill="#ef5350"/>
<line x1="427.8" y1="190.5" x2="427.8" y2="210.6" stroke="#ef5350" stroke-width="1" stroke-opacity="0.9"/>
<rect x="426.00" y="192.2" width="3.5" height="9.8" fill="#ef5350"/>
<line x1="432.3" y1="191.0" x2="432.3" y2="209.4" stroke="#ef5350" stroke-width="1" stroke-opacity="0.9"/>
<rect x="430.52" y="200.3" width="3.5" height="1.7" fill="#ef5350"/>
<line x1="436.8" y1="197.9" x2="436.8" y2="220.8" stroke="#ef5350" stroke-width="1" stroke-opacity="0.9"/>
<rect x="435.04" y="200.3" width="3.5" height="7.3" fill="#ef5350"/>
<line x1="441.3" y1="194.7" x2="441.3" y2="210.6" stroke="#26a69a" stroke-width="1" stroke-opacity="0.9"/>
<rect x="439.56" y="195.9" width="3.5" height="11.7" fill="#26a69a"/>
<line x1="445.8" y1="188.0" x2="445.8" y2="197.9" stroke="#26a69a" stroke-width="1" stroke-opacity="0.9"/>
<rect x="444.08" y="192.2" width="3.5" height="3.7" fill="#26a69a"/>
<line x1="450.3" y1="172.6" x2="450.3" y2="193.3" stroke="#26a69a" stroke-width="1" stroke-opacity="0.9"/>
<rect x="448.60" y="182.3" width="3.5" height="10.6" fill="#26a69a"/>
<line x1="454.9" y1="174.3" x2="454.9" y2="194.6" stroke="#ef5350" stroke-width="1" stroke-opacity="0.9"/>
<rect x="453.12" y="182.3" width="3.5" height="11.0" fill="#ef5350"/>
<line x1="459.4" y1="186.0" x2="459.4" y2="204.4" stroke="#ef5350" stroke-width="1" stroke-opacity="0.9"/>
<rect x="457.64" y="192.1" width="3.5" height="1.2" fill="#ef5350"/>
<line x1="463.9" y1="186.0" x2="463.9" y2="195.8" stroke="#26a69a" stroke-width="1" stroke-opacity="0.9"/>
<rect x="462.16" y="188.0" width="3.5" height="4.1" fill="#26a69a"/>
<line x1="468.4" y1="177.5" x2="468.4" y2="189.0" stroke="#26a69a" stroke-width="1" stroke-opacity="0.9"/>
<rect x="466.67" y="178.2" width="3.5" height="10.3" fill="#26a69a"/>
<line x1="472.9" y1="174.3" x2="472.9" y2="190.9" stroke="#26a69a" stroke-width="1" stroke-opacity="0.9"/>
<rect x="471.19" y="176.7" width="3.5" height="2.0" fill="#26a69a"/>
<line x1="477.5" y1="161.6" x2="477.5" y2="178.7" stroke="#26a69a" stroke-width="1" stroke-opacity="0.9"/>
<rect x="475.71" y="163.5" width="3.5" height="14.7" fill="#26a69a"/>
<line x1="482.0" y1="159.1" x2="482.0" y2="176.2" stroke="#ef5350" stroke-width="1" stroke-opacity="0.9"/>
<rect x="480.23" y="164.0" width="3.5" height="4.4" fill="#ef5350"/>
<line x1="486.5" y1="162.8" x2="486.5" y2="170.9" stroke="#26a69a" stroke-width="1" stroke-opacity="0.9"/>
<rect x="484.75" y="166.0" width="3.5" height="2.4" fill="#26a69a"/>
<line x1="491.0" y1="140.8" x2="491.0" y2="168.9" stroke="#26a69a" stroke-width="1" stroke-opacity="0.9"/>
<rect x="489.27" y="144.4" width="3.5" height="23.3" fill="#26a69a"/>
<line x1="495.5" y1="134.2" x2="495.5" y2="154.2" stroke="#26a69a" stroke-width="1" stroke-opacity="0.9"/>
<rect x="493.79" y="137.6" width="3.5" height="8.1" fill="#26a69a"/>
<line x1="500.1" y1="137.7" x2="500.1" y2="154.3" stroke="#ef5350" stroke-width="1" stroke-opacity="0.9"/>
<rect x="498.31" y="138.4" width="3.5" height="13.5" fill="#ef5350"/>
<line x1="504.6" y1="144.6" x2="504.6" y2="171.5" stroke="#ef5350" stroke-width="1" stroke-opacity="0.9"/>
<rect x="502.83" y="153.1" width="3.5" height="14.7" fill="#ef5350"/>
<line x1="509.1" y1="162.9" x2="509.1" y2="177.6" stroke="#26a69a" stroke-width="1" stroke-opacity="0.9"/>
<rect x="507.35" y="166.6" width="3.5" height="1.2" fill="#26a69a"/>
<line x1="513.6" y1="160.5" x2="513.6" y2="175.1" stroke="#26a69a" stroke-width="1" stroke-opacity="0.9"/>
<rect x="511.86" y="161.7" width="3.5" height="4.9" fill="#26a69a"/>
<line x1="518.1" y1="160.5" x2="518.1" y2="170.2" stroke="#ef5350" stroke-width="1" stroke-opacity="0.9"/>
<rect x="516.38" y="161.2" width="3.5" height="7.8" fill="#ef5350"/>
<line x1="522.7" y1="161.2" x2="522.7" y2="172.7" stroke="#26a69a" stroke-width="1" stroke-opacity="0.9"/>
<rect x="520.90" y="167.8" width="3.5" height="1.7" fill="#26a69a"/>
<line x1="527.2" y1="162.9" x2="527.2" y2="172.7" stroke="#26a69a" stroke-width="1" stroke-opacity="0.9"/>
<rect x="525.42" y="167.0" width="3.5" height="1.5" fill="#26a69a"/>
<line x1="531.7" y1="167.0" x2="531.7" y2="177.6" stroke="#ef5350" stroke-width="1" stroke-opacity="0.9"/>
<rect x="529.94" y="168.5" width="3.5" height="5.4" fill="#ef5350"/>
<line x1="536.2" y1="172.7" x2="536.2" y2="186.1" stroke="#ef5350" stroke-width="1" stroke-opacity="0.9"/>
<rect x="534.46" y="172.7" width="3.5" height="12.2" fill="#ef5350"/>
<line x1="540.7" y1="180.0" x2="540.7" y2="191.0" stroke="#26a69a" stroke-width="1" stroke-opacity="0.9"/>
<rect x="538.98" y="183.7" width="3.5" height="1.2" fill="#26a69a"/>
<line x1="545.2" y1="176.3" x2="545.2" y2="198.4" stroke="#ef5350" stroke-width="1" stroke-opacity="0.9"/>
<rect x="543.50" y="183.7" width="3.5" height="12.2" fill="#ef5350"/>
<line x1="549.8" y1="193.0" x2="549.8" y2="204.0" stroke="#ef5350" stroke-width="1" stroke-opacity="0.9"/>
<rect x="548.02" y="195.6" width="3.5" height="6.1" fill="#ef5350"/>
<line x1="554.3" y1="185.8" x2="554.3" y2="202.9" stroke="#26a69a" stroke-width="1" stroke-opacity="0.9"/>
<rect x="552.54" y="187.0" width="3.5" height="14.0" fill="#26a69a"/>
<line x1="558.8" y1="184.6" x2="558.8" y2="190.7" stroke="#26a69a" stroke-width="1" stroke-opacity="0.9"/>
<rect x="557.05" y="185.8" width="3.5" height="2.0" fill="#26a69a"/>
<line x1="563.3" y1="182.1" x2="563.3" y2="191.9" stroke="#26a69a" stroke-width="1" stroke-opacity="0.9"/>
<rect x="561.57" y="185.8" width="3.5" height="1.2" fill="#26a69a"/>
<line x1="567.8" y1="174.0" x2="567.8" y2="188.2" stroke="#26a69a" stroke-width="1" stroke-opacity="0.9"/>
<rect x="566.09" y="174.8" width="3.5" height="13.0" fill="#26a69a"/>
<line x1="572.4" y1="167.5" x2="572.4" y2="178.5" stroke="#26a69a" stroke-width="1" stroke-opacity="0.9"/>
<rect x="570.61" y="172.3" width="3.5" height="3.7" fill="#26a69a"/>
<line x1="576.9" y1="169.9" x2="576.9" y2="177.2" stroke="#26a69a" stroke-width="1" stroke-opacity="0.9"/>
<rect x="575.13" y="172.3" width="3.5" height="1.3" fill="#26a69a"/>
<line x1="581.4" y1="163.7" x2="581.4" y2="173.5" stroke="#26a69a" stroke-width="1" stroke-opacity="0.9"/>
<rect x="579.65" y="165.3" width="3.5" height="7.2" fill="#26a69a"/>
<line x1="585.9" y1="153.0" x2="585.9" y2="167.6" stroke="#26a69a" stroke-width="1" stroke-opacity="0.9"/>
<rect x="584.17" y="154.9" width="3.5" height="11.1" fill="#26a69a"/>
<line x1="590.4" y1="154.9" x2="590.4" y2="175.5" stroke="#ef5350" stroke-width="1" stroke-opacity="0.9"/>
<rect x="588.69" y="155.5" width="3.5" height="19.0" fill="#ef5350"/>
<line x1="595.0" y1="163.7" x2="595.0" y2="177.0" stroke="#26a69a" stroke-width="1" stroke-opacity="0.9"/>
<rect x="593.21" y="165.7" width="3.5" height="6.8" fill="#26a69a"/>
<line x1="599.5" y1="143.0" x2="599.5" y2="167.6" stroke="#26a69a" stroke-width="1" stroke-opacity="0.9"/>
<rect x="597.73" y="144.6" width="3.5" height="21.1" fill="#26a69a"/>
<line x1="604.0" y1="117.7" x2="604.0" y2="153.0" stroke="#26a69a" stroke-width="1" stroke-opacity="0.9"/>
<rect x="602.24" y="125.5" width="3.5" height="18.6" fill="#26a69a"/>
<line x1="608.5" y1="119.7" x2="608.5" y2="156.9" stroke="#ef5350" stroke-width="1" stroke-opacity="0.9"/>
<rect x="606.76" y="125.5" width="3.5" height="19.6" fill="#ef5350"/>
<line x1="613.0" y1="134.4" x2="613.0" y2="147.1" stroke="#26a69a" stroke-width="1" stroke-opacity="0.9"/>
<rect x="611.28" y="139.2" width="3.5" height="6.9" fill="#26a69a"/>
<line x1="617.6" y1="138.3" x2="617.6" y2="145.1" stroke="#ef5350" stroke-width="1" stroke-opacity="0.9"/>
<rect x="615.80" y="139.2" width="3.5" height="4.9" fill="#ef5350"/>
<line x1="622.1" y1="128.1" x2="622.1" y2="147.1" stroke="#26a69a" stroke-width="1" stroke-opacity="0.9"/>
<rect x="620.32" y="134.0" width="3.5" height="12.1" fill="#26a69a"/>
<polyline points="145.0,290.0 151.5,284.0 163.5,277.0 171.2,272.8 178.8,266.8 190.0,256.9 197.3,250.2 201.8,246.5 206.3,243.1 210.8,239.9 215.4,237.0 219.9,235.0 224.4,234.0 228.9,231.6 233.4,229.4 238.0,228.5 242.5,227.8 247.0,226.9 251.5,225.8 256.0,224.5 260.6,223.5 265.1,223.1 269.6,222.5 274.1,222.5 278.6,223.6 283.1,224.6 287.7,225.9 292.2,228.5 296.7,230.5 301.2,232.5 305.7,235.0 310.3,237.1 314.8,237.5 319.3,237.0 323.8,236.5 328.3,236.9 332.9,236.3 337.4,235.6 341.9,235.2 346.4,234.3 350.9,232.7 355.4,231.0 360.0,228.0 364.5,224.8 369.0,220.0 373.5,216.1 378.0,212.3 382.6,208.2 387.1,201.9 391.6,197.0 396.1,191.4 400.6,186.3 405.2,181.0 409.7,176.9 414.2,175.0 418.7,173.7 423.2,171.8 427.8,171.0 432.3,170.3 436.8,169.5 441.3,169.0 445.8,169.2 450.3,168.9 454.9,169.2 459.4,170.2 463.9,172.6 468.4,173.8 472.9,174.6 477.5,174.9 482.0,177.0 486.5,178.3 491.0,179.1 495.5,179.1 500.1,179.9 504.6,180.3 509.1,179.0 513.6,177.7 518.1,176.6 522.7,175.0 527.2,173.3 531.7,171.7 536.2,171.2 540.7,170.8 545.2,171.4 549.8,171.8 554.3,171.5 558.8,171.4 563.3,171.8 567.8,171.7 572.4,172.1 576.9,172.3 581.4,172.2 585.9,172.7 590.4,174.5 595.0,175.2 599.5,174.1 604.0,172.1 608.5,171.3 613.0,169.9 617.6,168.8 622.1,167.2" fill="none" stroke="#43a047" stroke-width="1.35" stroke-linejoin="round"/>
<polyline points="118.0,290.0 123.5,284.0 130.5,278.5 138.1,274.0 143.1,268.5 147.6,264.9 152.1,262.7 156.6,261.4 161.1,259.6 165.7,256.3 170.2,255.2 174.7,252.2 179.2,248.9 183.7,244.6 188.2,241.4 192.8,237.4 197.3,232.4 201.8,227.1 206.3,221.8 210.8,214.9 215.4,209.5 219.9,209.2 224.4,212.7 228.9,213.7 233.4,214.6 238.0,217.8 242.5,221.2 247.0,225.0 251.5,228.3 256.0,230.5 260.6,229.3 265.1,229.8 269.6,231.1 274.1,232.8 278.6,233.2 283.1,234.0 287.7,235.0 292.2,238.7 296.7,241.1 301.2,243.0 305.7,242.5 310.3,243.5 314.8,244.2 319.3,244.1 323.8,241.6 328.3,240.3 332.9,236.0 337.4,233.2 341.9,231.1 346.4,226.8 350.9,220.2 355.4,214.0 360.0,208.8 364.5,203.7 369.0,193.4 373.5,186.0 378.0,179.5 382.6,172.0 387.1,163.3 391.6,157.7 396.1,150.7 400.6,145.2 405.2,141.3 409.7,143.5 414.2,148.3 418.7,151.5 423.2,155.4 427.8,163.9 432.3,170.9 436.8,179.9 441.3,186.5 445.8,192.6 450.3,195.3 454.9,195.2 459.4,195.6 463.9,195.2 468.4,192.5 472.9,189.7 477.5,184.8 482.0,181.8 486.5,178.9 491.0,174.6 495.5,168.5 500.1,163.9 504.6,161.6 509.1,160.3 513.6,158.7 518.1,159.3 522.7,159.2 527.2,159.3 531.7,162.6 536.2,167.8 540.7,171.4 545.2,174.5 549.8,178.4 554.3,181.2 558.8,183.1 563.3,185.1 567.8,185.9 572.4,185.8 576.9,184.4 581.4,182.3 585.9,177.8 590.4,174.7 595.0,172.4 599.5,167.8 604.0,161.1 608.5,157.8 613.0,154.1 617.6,151.0 622.1,147.5" fill="none" stroke="#ef4f4b" stroke-width="1.35" stroke-linejoin="round"/>
<line x1="419.2" y1="154.7" x2="635.3" y2="108.5" stroke="#3b3b40" stroke-width="1.6" stroke-linecap="round"/>
<line x1="436.9" y1="226.8" x2="657.7" y2="178.5" stroke="#3b3b40" stroke-width="1.6" stroke-linecap="round"/>
<line x1="649" y1="111.3" x2="701" y2="111.3" stroke="#43a047" stroke-width="1.6"/>
<line x1="649" y1="168" x2="701" y2="168" stroke="#ef5350" stroke-width="1.6"/>
<text x="650.8" y="108.7" font-size="10" fill="#e4504c" stroke="#e4504c" stroke-width="0.3" textLength="46.4" lengthAdjust="spacingAndGlyphs">Resistance</text>
<text x="650.4" y="164" font-size="10" fill="#3f9f45" stroke="#3f9f45" stroke-width="0.3" textLength="34.6" lengthAdjust="spacingAndGlyphs">Support</text>
<path d="M556.2 125.1 H607.2 Q610.6 125.1 610.6 128.5 V143.6 Q610.6 147 607.2 147 H588 L608.2 158 L575.9 147 H556.2 Q552.8 147 552.8 143.6 V128.5 Q552.8 125.1 556.2 125.1 Z" fill="#ec8c89"/>
<text x="559.8" y="139.6" font-size="10.5" fill="#fff" stroke="#fff" stroke-width="0.45" textLength="43.7" lengthAdjust="spacingAndGlyphs">9-day MA</text>
<rect x="598.0" y="144.6" width="3" height="2.4" fill="#6e6e72"/>
<rect x="602.5" y="125.5" width="3" height="18.6" fill="#6e6e72"/>
<rect x="607.0" y="125.5" width="3" height="19.6" fill="#e8403c"/>
<path d="M599 184 H618.7 L608.5 171.9 L633.4 184 H654.3 Q658.3 184 658.3 188 V201.6 Q658.3 205.6 654.3 205.6 H599 Q595 205.6 595 201.6 V188 Q595 184 599 184 Z" fill="rgba(76,160,76,0.55)"/>
<text x="602.3" y="197.9" font-size="10.5" fill="#fff" stroke="#fff" stroke-width="0.45" textLength="49.9" lengthAdjust="spacingAndGlyphs">21-day MA</text>
</g>
<g clip-path="url(#cr)">
<polyline points="7.5,314.3 12.2,330.3 16.7,332.5 21.2,328.0 25.9,321.2 30.4,313.3 34.9,316.9 39.6,313.3 44.1,313.3 48.6,326.0 52.9,322.5 57.2,322.1 61.7,322.5 66.2,331.3 70.5,330.5 75.4,333.9 79.9,337.2 84.6,330.3 89.1,323.7 93.6,323.7 98.3,325.5 102.7,312.7 107.2,305.9 111.5,300.6 116.0,295.3 120.7,303.6 125.2,315.7 129.5,309.4 134.0,321.2 138.9,314.3 143.9,307.5 147.8,306.9 152.7,308.8 157.2,307.9 161.5,308.8 166.0,308.1 170.7,314.7 175.2,312.9 179.7,306.5 184.0,296.7 188.5,302.6 192.8,301.2 197.7,297.3 202.2,297.3 206.5,296.1 211.0,294.4 215.3,303.2 220.2,328.6 224.7,332.3 229.4,324.5 233.9,322.1 238.4,327.4 242.7,327.6 247.2,328.4 251.9,322.5 256.3,322.5 260.8,324.7 265.1,337.8 270.0,332.5 274.9,332.3 278.9,330.3 283.4,333.3 288.1,335.2 292.6,342.3 297.1,333.9 301.4,332.9 305.9,333.9 310.6,336.8 315.1,334.8 319.4,326.6 323.9,317.6 328.4,325.7 333.1,320.2 337.6,319.6 342.1,323.5 346.8,313.7 351.3,307.9 355.8,307.9 360.1,307.1 364.6,301.6 369.3,293.2 373.8,303.6 378.1,307.5 382.6,306.9 387.5,298.7 392.0,306.1 396.3,303.6 400.8,309.4 405.1,309.4 410.0,321.6 414.4,335.4 418.8,333.9 423.7,335.2 428.0,338.8 432.5,337.8 437.0,340.7 441.7,334.8 446.2,332.9 450.7,328.6 455.4,332.3 459.9,332.5 464.4,330.5 468.7,326.0 473.0,325.5 477.5,319.2 482.4,321.5 486.8,320.8 491.5,311.0 495.6,309.0 500.0,317.6 504.8,327.0 509.3,326.4 513.6,324.5 518.5,328.4 523.0,328.4 527.3,328.4 531.6,331.5 536.7,338.4 541.0,338.4 545.5,344.6 549.9,347.0 554.3,336.4 559.0,336.2 563.5,335.8 568.0,328.6 572.3,326.6 576.8,325.7 581.5,321.2 586.0,315.3 590.5,329.4 595.1,324.7 599.6,313.7 604.1,307.1 608.8,319.8 613.3,316.9 617.8,320.2 622.5,315.9" fill="none" stroke="#af52c1" stroke-width="1.25" stroke-linejoin="round"/>
</g>
<text x="10.7" y="45.6" font-size="10" font-weight="bold" stroke="#505050" stroke-width="0.15" fill="#505050" textLength="145" lengthAdjust="spacingAndGlyphs">Litecoin / U.S. Dollar, 1D, COINBASE</text>
<text stroke="#5c5c5c" stroke-width="0.25" x="10.7" y="58.1" font-size="10.5" fill="#5c5c5c" textLength="51.2" lengthAdjust="spacingAndGlyphs">MA (9, close)</text>
<text stroke="#5c5c5c" stroke-width="0.25" x="10.7" y="69.5" font-size="10.5" fill="#5c5c5c" textLength="55.9" lengthAdjust="spacingAndGlyphs">MA (21, close)</text>
<text stroke="#5c5c5c" stroke-width="0.25" x="10.7" y="81.1" font-size="10.5" fill="#5c5c5c" textLength="12.3" lengthAdjust="spacingAndGlyphs">Vol</text>
<text stroke="#606060" stroke-width="0.25" x="10.7" y="300.2" font-size="10.5" fill="#606060" textLength="54.6" lengthAdjust="spacingAndGlyphs">RSI (14, close)</text>
<g stroke="#787b86" stroke-width="1" fill="none">
<rect x="4.5" y="30.5" width="742" height="353"/>
<line x1="701.5" y1="30.5" x2="701.5" y2="383.5"/>
<line x1="4.5" y1="284.5" x2="746.5" y2="284.5"/>
<line x1="4.5" y1="363.5" x2="746.5" y2="363.5"/>
</g>
<g fill="#444" stroke="#444" stroke-width="0.2" clip-path="url(#ca)">
<line x1="701.5" y1="281.2" x2="705" y2="281.2" stroke="#555" stroke-width="1"/>
<text x="708.3" y="284.2" font-size="9" textLength="12.4" lengthAdjust="spacingAndGlyphs">100</text>
<line x1="701.5" y1="258.6" x2="705" y2="258.6" stroke="#555" stroke-width="1"/>
<text x="708.3" y="261.6" font-size="9" textLength="12.4" lengthAdjust="spacingAndGlyphs">120</text>
<line x1="701.5" y1="235.9" x2="705" y2="235.9" stroke="#555" stroke-width="1"/>
<text x="708.3" y="238.9" font-size="9" textLength="12.4" lengthAdjust="spacingAndGlyphs">140</text>
<line x1="701.5" y1="213.3" x2="705" y2="213.3" stroke="#555" stroke-width="1"/>
<text x="708.3" y="216.3" font-size="9" textLength="12.4" lengthAdjust="spacingAndGlyphs">160</text>
<line x1="701.5" y1="190.6" x2="705" y2="190.6" stroke="#555" stroke-width="1"/>
<text x="708.3" y="193.6" font-size="9" textLength="12.4" lengthAdjust="spacingAndGlyphs">180</text>
<line x1="701.5" y1="168.0" x2="705" y2="168.0" stroke="#555" stroke-width="1"/>
<text x="708.3" y="171.0" font-size="9" textLength="12.4" lengthAdjust="spacingAndGlyphs">200</text>
<line x1="701.5" y1="145.4" x2="705" y2="145.4" stroke="#555" stroke-width="1"/>
<text x="708.3" y="148.4" font-size="9" textLength="12.4" lengthAdjust="spacingAndGlyphs">220</text>
<line x1="701.5" y1="122.7" x2="705" y2="122.7" stroke="#555" stroke-width="1"/>
<text x="708.3" y="125.7" font-size="9" textLength="12.4" lengthAdjust="spacingAndGlyphs">240</text>
<line x1="701.5" y1="100.1" x2="705" y2="100.1" stroke="#555" stroke-width="1"/>
<text x="708.3" y="103.1" font-size="9" textLength="12.4" lengthAdjust="spacingAndGlyphs">260</text>
<line x1="701.5" y1="77.4" x2="705" y2="77.4" stroke="#555" stroke-width="1"/>
<text x="708.3" y="80.4" font-size="9" textLength="12.4" lengthAdjust="spacingAndGlyphs">280</text>
<line x1="701.5" y1="54.8" x2="705" y2="54.8" stroke="#555" stroke-width="1"/>
<text x="708.3" y="57.8" font-size="9" textLength="12.4" lengthAdjust="spacingAndGlyphs">300</text>
<line x1="701.5" y1="32.2" x2="705" y2="32.2" stroke="#555" stroke-width="1"/>
<text x="708.3" y="35.2" font-size="9" textLength="12.4" lengthAdjust="spacingAndGlyphs">320</text>
</g><g fill="#444" stroke="#444" stroke-width="0.2">
<line x1="701.5" y1="291.6" x2="705" y2="291.6" stroke="#555" stroke-width="1"/>
<text x="708.3" y="294.6" font-size="9" textLength="8.4" lengthAdjust="spacingAndGlyphs">80</text>
<line x1="701.5" y1="317.6" x2="705" y2="317.6" stroke="#555" stroke-width="1"/>
<text x="708.3" y="320.6" font-size="9" textLength="8.4" lengthAdjust="spacingAndGlyphs">60</text>
<line x1="701.5" y1="343.6" x2="705" y2="343.6" stroke="#555" stroke-width="1"/>
<text x="708.3" y="346.6" font-size="9" textLength="8.4" lengthAdjust="spacingAndGlyphs">40</text>
</g>
<rect x="713.5" y="35.5" width="18.8" height="11.8" rx="2.5" fill="#fff" stroke="#e0e0f0" stroke-width="1"/>
<text stroke="#555" stroke-width="0.25" x="716" y="44.2" font-size="8.5" fill="#555" textLength="14.8" lengthAdjust="spacingAndGlyphs">USD</text>
<path d="M701 105.5 H733.6 Q735.6 105.5 735.6 107.5 V114.6 Q735.6 116.6 733.6 116.6 H701 Z" fill="#43a047"/>
<line x1="701.5" y1="111.0" x2="705" y2="111.0" stroke="#fff" stroke-width="1"/>
<text x="707.8" y="114.5" font-size="9.5" fill="#fff" textLength="24.4" lengthAdjust="spacingAndGlyphs">250.00</text>
<path d="M701 117.2 H733.6 Q735.6 117.2 735.6 119.2 V126.4 Q735.6 128.4 733.6 128.4 H701 Z" fill="#d8ebd4"/>
<line x1="701.5" y1="122.8" x2="705" y2="122.8" stroke="#333" stroke-width="1"/>
<text stroke="#333" stroke-width="0.25" x="707.8" y="126.2" font-size="9.5" fill="#333" textLength="24.4" lengthAdjust="spacingAndGlyphs">235.39</text>
<path d="M701 129 H741 Q743 129 743 131 V148 Q743 150 741 150 H701 Z" fill="#26a69a"/>
<line x1="701.5" y1="134.3" x2="705" y2="134.3" stroke="#fff" stroke-width="1"/>
<text x="707.8" y="137.8" font-size="9.5" fill="#fff" textLength="24.4" lengthAdjust="spacingAndGlyphs">230.08</text>
<text x="707.8" y="147.8" font-size="9.5" fill="#fff" textLength="31.5" lengthAdjust="spacingAndGlyphs">10:15:07</text>
<path d="M701 150.5 H733.6 Q735.6 150.5 735.6 152.5 V160.2 Q735.6 162.2 733.6 162.2 H701 Z" fill="#d8ebd4"/>
<line x1="701.5" y1="156.3" x2="705" y2="156.3" stroke="#333" stroke-width="1"/>
<text stroke="#333" stroke-width="0.25" x="707.8" y="159.8" font-size="9.5" fill="#333" textLength="24.4" lengthAdjust="spacingAndGlyphs">218.10</text>
<path d="M701 163 H733.6 Q735.6 163 735.6 165 V172 Q735.6 174 733.6 174 H701 Z" fill="#e53935"/>
<line x1="701.5" y1="168.5" x2="705" y2="168.5" stroke="#fff" stroke-width="1"/>
<text x="707.8" y="171.9" font-size="9.5" fill="#fff" textLength="24.4" lengthAdjust="spacingAndGlyphs">200.00</text>
<line x1="34.5" y1="363.5" x2="34.5" y2="367" stroke="#8a8a90" stroke-width="1"/>
<text stroke="#444" stroke-width="0.25" x="34.5" y="375.9" font-size="8.5" fill="#444" text-anchor="middle">Dec</text>
<line x1="93.5" y1="363.5" x2="93.5" y2="367" stroke="#8a8a90" stroke-width="1"/>
<text stroke="#444" stroke-width="0.25" x="93.5" y="375.9" font-size="8.5" fill="#444" text-anchor="middle">14</text>
<line x1="174.5" y1="363.5" x2="174.5" y2="367" stroke="#8a8a90" stroke-width="1"/>
<text stroke="#444" stroke-width="0.25" x="174.5" y="375.9" font-size="8.5" fill="#444" text-anchor="middle">2021</text>
<line x1="251.5" y1="363.5" x2="251.5" y2="367" stroke="#8a8a90" stroke-width="1"/>
<text stroke="#444" stroke-width="0.25" x="251.5" y="375.9" font-size="8.5" fill="#444" text-anchor="middle">18</text>
<line x1="314.5" y1="363.5" x2="314.5" y2="367" stroke="#8a8a90" stroke-width="1"/>
<text stroke="#444" stroke-width="0.25" x="314.5" y="375.9" font-size="8.5" fill="#444" text-anchor="middle">Feb</text>
<line x1="378.5" y1="363.5" x2="378.5" y2="367" stroke="#8a8a90" stroke-width="1"/>
<text stroke="#444" stroke-width="0.25" x="378.5" y="375.9" font-size="8.5" fill="#444" text-anchor="middle">15</text>
<line x1="441.5" y1="363.5" x2="441.5" y2="367" stroke="#8a8a90" stroke-width="1"/>
<text stroke="#444" stroke-width="0.25" x="441.5" y="375.9" font-size="8.5" fill="#444" text-anchor="middle">Mar</text>
<line x1="504.5" y1="363.5" x2="504.5" y2="367" stroke="#8a8a90" stroke-width="1"/>
<text stroke="#444" stroke-width="0.25" x="504.5" y="375.9" font-size="8.5" fill="#444" text-anchor="middle">15</text>
<line x1="581.5" y1="363.5" x2="581.5" y2="367" stroke="#8a8a90" stroke-width="1"/>
<text stroke="#444" stroke-width="0.25" x="581.5" y="375.9" font-size="8.5" fill="#444" text-anchor="middle">Apr</text>
<line x1="640.5" y1="363.5" x2="640.5" y2="367" stroke="#8a8a90" stroke-width="1"/>
<text stroke="#444" stroke-width="0.25" x="640.5" y="375.9" font-size="8.5" fill="#444" text-anchor="middle">14</text>
<g fill="#2196f3"><circle cx="7" cy="397.8" r="3"/><circle cx="12" cy="395.3" r="4.6"/><circle cx="19.3" cy="397.6" r="3.3"/><rect x="6" y="396.5" width="14" height="4.4"/></g>
<polyline points="5.2,399.8 11,395.2 15.3,398.5 20.2,394.5" fill="none" stroke="#fff" stroke-width="0.9"/>
<circle cx="11" cy="395.2" r="1" fill="#fff"/><circle cx="15.3" cy="398.5" r="1" fill="#fff"/>
<text stroke="#2a2a2a" stroke-width="0.25" x="24" y="398.9" font-size="9" fill="#2a2a2a" textLength="49" lengthAdjust="spacingAndGlyphs">TradingView</text>
</svg></body></html>
